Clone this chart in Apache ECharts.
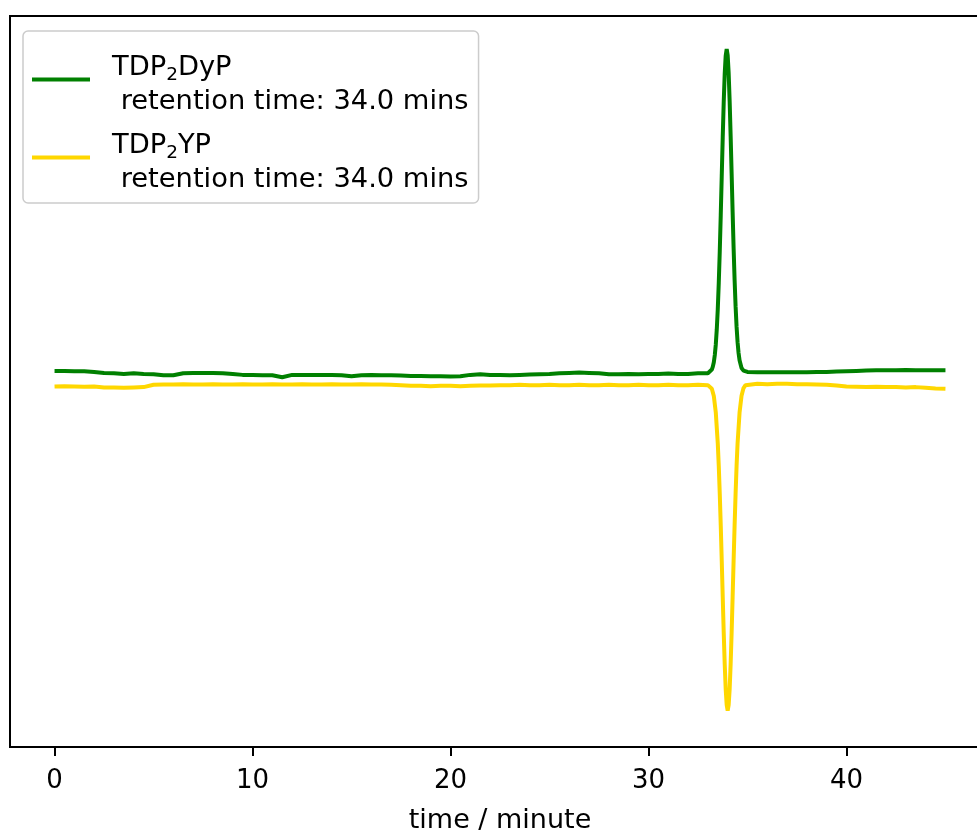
<!DOCTYPE html>
<html>
<head>
<meta charset="utf-8">
<script src="https://cdn.jsdelivr.net/npm/echarts@6/dist/echarts.min.js"></script>
<style>
  html, body { margin: 0; padding: 0; background: #fff; }
  #chart { width: 977px; height: 831px; }
</style>
</head>
<body>
<div id="chart"></div>
<script>
// HPLC traces (signal in arbitrary units, peak = 1)
const baseTime = [
  0, 0.5, 1, 1.5, 2, 2.5, 3, 3.5, 4, 4.5,
  5, 5.5, 6, 6.5, 7, 7.5, 8, 8.5, 9, 9.5,
  10, 10.5, 11, 11.5, 12, 12.5, 13, 13.5, 14, 14.5,
  15, 15.5, 16, 16.5, 17, 17.5, 18, 18.5, 19, 19.5,
  20, 20.5, 21, 21.5, 22, 22.5, 23, 23.5, 24, 24.5,
  25, 25.5, 26, 26.5, 27, 27.5, 28, 28.5, 29, 29.5,
  30, 30.5, 31, 31.5, 32, 32.5, 33
];
const greenBase = [
  0.027, 0.027, 0.026, 0.026, 0.024, 0.021, 0.020, 0.018, 0.020, 0.018,
  0.017, 0.014, 0.014, 0.020, 0.021, 0.021, 0.021, 0.020, 0.018, 0.015,
  0.015, 0.014, 0.014, 0.008, 0.015, 0.015, 0.015, 0.015, 0.015, 0.014,
  0.011, 0.014, 0.015, 0.014, 0.014, 0.013, 0.012, 0.012, 0.011, 0.011,
  0.010, 0.011, 0.015, 0.017, 0.015, 0.015, 0.014, 0.015, 0.016, 0.017,
  0.018, 0.020, 0.021, 0.022, 0.021, 0.020, 0.017, 0.017, 0.018, 0.017,
  0.018, 0.018, 0.019, 0.018, 0.018, 0.020, 0.020
];
const yellowBase = [
  -0.020, -0.019, -0.020, -0.021, -0.020, -0.023, -0.023, -0.024, -0.023, -0.022,
  -0.015, -0.014, -0.014, -0.013, -0.014, -0.014, -0.013, -0.014, -0.014, -0.013,
  -0.014, -0.014, -0.013, -0.014, -0.014, -0.013, -0.014, -0.014, -0.013, -0.014,
  -0.014, -0.013, -0.014, -0.014, -0.015, -0.016, -0.018, -0.018, -0.019, -0.018,
  -0.018, -0.019, -0.018, -0.017, -0.017, -0.016, -0.016, -0.015, -0.016, -0.016,
  -0.015, -0.016, -0.016, -0.015, -0.016, -0.016, -0.015, -0.016, -0.016, -0.015,
  -0.016, -0.016, -0.015, -0.016, -0.016, -0.015, -0.016
];

const greenPeakTime = [
  33.1, 33.2, 33.25, 33.3, 33.35, 33.4, 33.45, 33.5, 33.55, 33.6,
  33.65, 33.7, 33.75, 33.8, 33.85, 33.9, 33.95, 34.0, 34.05, 34.1,
  34.15, 34.2, 34.25, 34.3, 34.35, 34.4, 34.45, 34.5, 34.55, 34.6,
  34.7, 34.8, 34.9
];
const greenPeak = [
  0.023, 0.031, 0.040, 0.053, 0.075, 0.107, 0.153, 0.214, 0.293, 0.388,
  0.498, 0.616, 0.733, 0.839, 0.925, 0.980, 1.000, 0.981, 0.927, 0.842,
  0.737, 0.623, 0.507, 0.398, 0.302, 0.222, 0.160, 0.114, 0.081, 0.059,
  0.036, 0.028, 0.025
];
const yellowPeakTime = [
  33.1, 33.2, 33.3, 33.4, 33.5, 33.55, 33.6, 33.65, 33.7, 33.75,
  33.8, 33.85, 33.9, 33.95, 34.0, 34.05, 34.1, 34.15, 34.2, 34.25,
  34.3, 34.35, 34.4, 34.45, 34.5, 34.6, 34.7, 34.8, 34.9
];
const yellowPeak = [
  -0.019, -0.027, -0.049, -0.099, -0.192, -0.260, -0.344, -0.440, -0.546, -0.656,
  -0.764, -0.859, -0.935, -0.983, -1.000, -0.983, -0.935, -0.859, -0.764, -0.656,
  -0.546, -0.440, -0.344, -0.260, -0.192, -0.099, -0.048, -0.025, -0.016
];

const tailTime = [
  35, 35.5, 36, 36.5, 37, 37.5, 38, 38.5, 39, 39.5,
  40, 40.5, 41, 41.5, 42, 42.5, 43, 43.5, 44, 44.5, 45
];
const greenTail = [
  0.024, 0.023, 0.023, 0.023, 0.023, 0.023, 0.023, 0.024, 0.024, 0.025,
  0.026, 0.027, 0.028, 0.029, 0.029, 0.029, 0.030, 0.029, 0.029, 0.029, 0.029
];
const yellowTail = [
  -0.013, -0.012, -0.013, -0.012, -0.012, -0.013, -0.013, -0.014, -0.015, -0.017,
  -0.020, -0.021, -0.022, -0.021, -0.022, -0.022, -0.023, -0.022, -0.024, -0.026, -0.027
];

const xTicks = [0, 10, 20, 30, 40];
const seriesNames = ['TDP2DyP', 'TDP2YP'];
const retention = ['34.0', '34.0'];

function pairs(t, v) {
  return t.map((x, i) => [x, v[i]]);
}

const greenData = [].concat(
  pairs(baseTime, greenBase), pairs(greenPeakTime, greenPeak), pairs(tailTime, greenTail));
const yellowData = [].concat(
  pairs(baseTime, yellowBase), pairs(yellowPeakTime, yellowPeak), pairs(tailTime, yellowTail));

const FONT = 'DejaVu Sans';
const chart = echarts.init(document.getElementById('chart'));

chart.setOption({
  backgroundColor: '#fff',
  animation: false,
  textStyle: { fontFamily: FONT },
  // plot area runs past the right edge of the picture (cropped figure)
  grid: {
    left: 10, top: 16, width: 980, height: 731,
    outerBoundsMode: 'none',
    containLabel: false,
    show: true, borderColor: '#000', borderWidth: 2, backgroundColor: 'transparent'
  },
  legend: {
    orient: 'vertical',
    left: 23, top: 31,
    padding: [14, 10, 10, 9],
    itemGap: 8,
    itemWidth: 58,
    itemHeight: 4,
    icon: 'rect',
    backgroundColor: 'rgba(255,255,255,0.8)',
    borderColor: '#cccccc',
    borderWidth: 1.5,
    borderRadius: 5,
    data: seriesNames,
    // small spacer line on top so the handle sits near the first text line
    formatter: name => {
      const i = seriesNames.indexOf(name);
      const head = i === 0
        ? '{a|TDP}{b|2}{a|DyP}'
        : '{a|TDP}{b|2}{a|YP}';
      return '{e| }\n' + head + '\n{a| retention time: ' + retention[i] + ' mins}';
    },
    textStyle: {
      fontFamily: FONT,
      fontSize: 27,
      color: '#000',
      padding: [0, 0, 0, 17],
      rich: {
        e: { fontSize: 1, lineHeight: 10 },
        a: { fontFamily: FONT, fontSize: 27.3, lineHeight: 34, color: '#000' },
        b: { fontFamily: FONT, fontSize: 18.5, lineHeight: 24, verticalAlign: 'bottom', color: '#000' }
      }
    }
  },
  xAxis: {
    type: 'value',
    min: -2.25,
    max: 47.25,
    name: 'time / minute',
    nameLocation: 'middle',
    nameGap: 60,
    nameTextStyle: { fontFamily: FONT, fontSize: 27, color: '#000', verticalAlign: 'top' },
    axisLine: { show: true, onZero: false, lineStyle: { color: '#000', width: 2 } },
    axisTick: {
      show: true, length: 9, customValues: xTicks,
      lineStyle: { color: '#000', width: 2 }
    },
    axisLabel: {
      show: true, customValues: xTicks, margin: 21,
      fontFamily: FONT, fontSize: 26, color: '#000'
    },
    splitLine: { show: false }
  },
  yAxis: {
    type: 'value',
    min: -1.11,
    max: 1.1,
    axisLine: { show: false },
    axisTick: { show: false },
    axisLabel: { show: false },
    splitLine: { show: false }
  },
  series: [
    {
      name: seriesNames[0],
      type: 'line',
      data: greenData,
      symbol: 'none',
      color: '#008000',
      lineStyle: { color: '#008000', width: 4 },
      z: 2
    },
    {
      name: seriesNames[1],
      type: 'line',
      data: yellowData,
      symbol: 'none',
      color: '#ffd700',
      lineStyle: { color: '#ffd700', width: 4 },
      z: 3
    }
  ]
});
</script>
</body>
</html>
